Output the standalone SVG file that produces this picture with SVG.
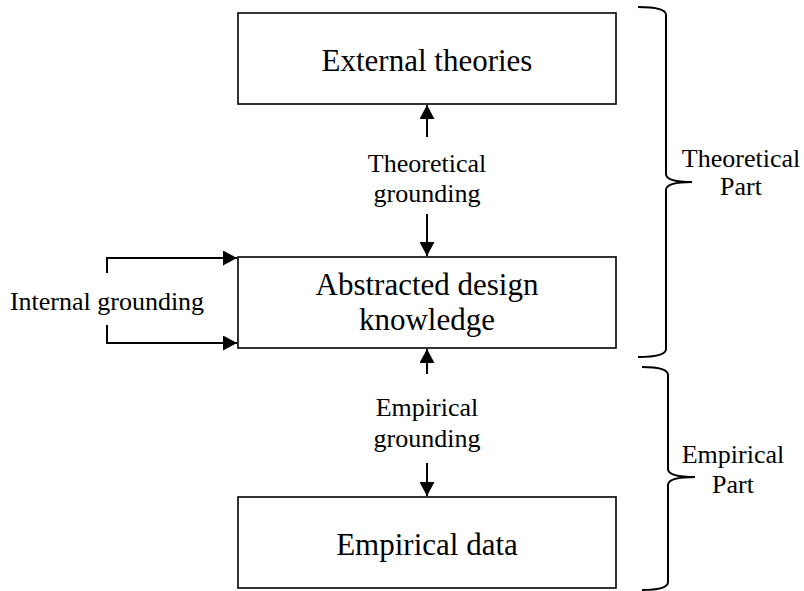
<svg xmlns="http://www.w3.org/2000/svg" width="804" height="591" viewBox="0 0 804 591">
  <defs>
    <marker id="arrow" markerWidth="14" markerHeight="15" refX="14" refY="7.5" orient="auto" markerUnits="userSpaceOnUse">
      <path d="M0,0 L14,7.5 L0,15 Z" fill="#000"/>
    </marker>
    <style>
      .box { fill: #fff; stroke: #000; stroke-width: 1.6; }
      .big { font-family: "Liberation Serif", "Times New Roman", serif; font-size: 31px; fill: #000; text-anchor: middle; }
      .small { font-family: "Liberation Serif", "Times New Roman", serif; font-size: 26px; fill: #000; text-anchor: middle; }
      .edge { fill: none; stroke: #000; stroke-width: 2; }
      .brace { fill: none; stroke: #000; stroke-width: 2; }
    </style>
  </defs>
  <rect width="804" height="591" fill="#fff"/>

  <g id="external-theories">
    <rect class="box" x="238" y="13" width="378" height="91"/>
    <text class="big" x="427" y="71">External theories</text>
  </g>

  <g id="abstracted-design-knowledge">
    <rect class="box" x="238" y="257" width="378" height="91"/>
    <text class="big" x="427" y="295">Abstracted design</text>
    <text class="big" x="427" y="330">knowledge</text>
  </g>

  <g id="empirical-data">
    <rect class="box" x="238" y="497" width="378" height="91"/>
    <text class="big" x="427" y="555">Empirical data</text>
  </g>

  <g id="connectors">
    <!-- theoretical grounding -->
    <line class="edge" x1="427" y1="137" x2="427" y2="105" marker-end="url(#arrow)"/>
    <line class="edge" x1="427" y1="214" x2="427" y2="256" marker-end="url(#arrow)"/>
    <text class="small" x="427" y="172">Theoretical</text>
    <text class="small" x="427" y="202">grounding</text>
    <!-- empirical grounding -->
    <line class="edge" x1="427" y1="374" x2="427" y2="349" marker-end="url(#arrow)"/>
    <line class="edge" x1="427" y1="463" x2="427" y2="496" marker-end="url(#arrow)"/>
    <text class="small" x="427" y="416">Empirical</text>
    <text class="small" x="427" y="447">grounding</text>
    <!-- internal grounding loop -->
    <polyline class="edge" points="107,273 107,258 237,258" marker-end="url(#arrow)"/>
    <polyline class="edge" points="107,325 107,343 237,343" marker-end="url(#arrow)"/>
    <text class="small" x="107" y="310">Internal grounding</text>
  </g>

  <g id="theoretical-part">
    <path class="brace" d="M638,7 Q666,7 666,15 L666,174 Q666,182 692,182 Q666,182 666,190 L666,349 Q666,357 638,357"/>
    <text class="small" x="741" y="167">Theoretical</text>
    <text class="small" x="741" y="195">Part</text>
  </g>

  <g id="empirical-part">
    <path class="brace" d="M642,367 Q668,367 668,375 L668,469 Q668,477 695,477 Q668,477 668,485 L668,582 Q668,590 642,590"/>
    <text class="small" x="733" y="463">Empirical</text>
    <text class="small" x="733" y="493">Part</text>
  </g>
</svg>
